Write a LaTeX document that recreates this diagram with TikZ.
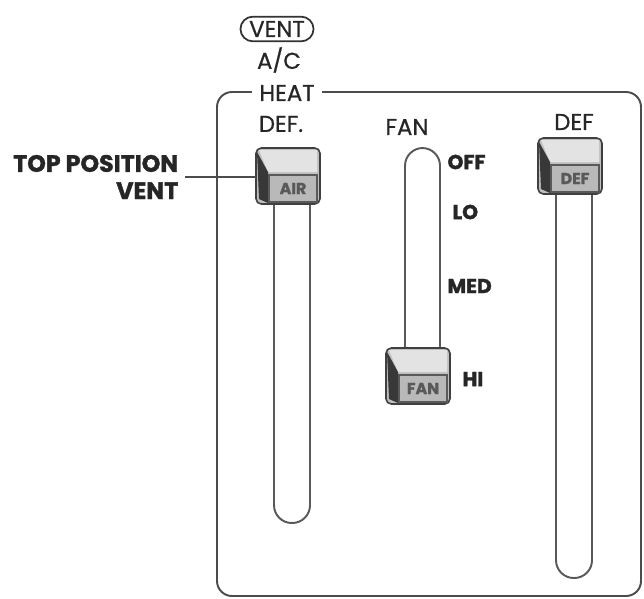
\documentclass[tikz,border=0pt]{standalone}
\usepackage{fontspec}
\setmainfont{Poppins}
\newfontfamily\medfont[FakeBold=0.7]{Poppins}
\newfontfamily\heavyfont[FakeBold=1.5]{Poppins}
\begin{document}
\begin{tikzpicture}[x=0.02cm,y=-0.02cm,line width=0.9pt,font=\fontsize{13}{15}\selectfont\medfont]
  \useasboundingbox (0,0) rectangle (644,598);
  \tikzset{
    frame/.style={draw=black!70,line width=1.1pt,rounded corners=0.3cm},
    slot/.style={draw=black!65,line width=1.1pt,rounded corners=0.355cm},
    lbl/.style={text=black!85,inner sep=1pt},
    poslbl/.style={text=black!85,font=\fontsize{11.5}{13}\selectfont\heavyfont\bfseries,inner sep=1pt,anchor=west},
  }

  % Rahmen und Schlitze
  \draw[frame] (217,92) rectangle (641,596);
  \draw[slot] (274,205) -- (274,523) -- (310,523) -- (310,205);
  \draw[slot] (405,355) -- (405,148) -- (440,148) -- (440,355);
  \draw[slot] (556,195) -- (556,578) -- (592,578) -- (592,195);

  % Schieber
  \foreach \kx/\ky/\kname/\ktext in {256/148/air/AIR, 386/348/fan/FAN, 538/138/def/DEF}{
    \draw[black!75,fill=gray!50,rounded corners=3pt] (\kx,\ky) rectangle ++(64,56);
    \fill[gray!22] (\kx+3,\ky+2) -- (\kx+61,\ky+2) -- (\kx+61,\ky+24) -- (\kx+12,\ky+24) -- cycle;
    \fill[black!78] (\kx+1,\ky+4) -- (\kx+12,\ky+24) -- (\kx+12,\ky+55) -- (\kx+3,\ky+51) -- cycle;
    \node[draw=black!65,fill=gray!55,minimum width=0.96cm,minimum height=0.54cm,inner sep=0pt,
          font=\fontsize{9}{9}\selectfont\heavyfont\bfseries,text=black!65] (\kname) at (\kx+37,\ky+40.5) {\ktext};
    \coordinate (\kname-l) at (\kx,\ky+29);
  }

  % Beschriftung
  \node[lbl,draw=black!80,line width=1pt,rounded corners=0.25cm,inner xsep=5pt,inner ysep=2.5pt] (vent) at (277,29) {VENT};
  \node[lbl] (ac) at (279,60) {A/C};
  \node[lbl,fill=white,inner xsep=4pt] (heat) at (287,93) {HEAT};
  \node[lbl] (defdot) at (281,124) {DEF.};
  \node[lbl] (fanlbl) at (407,127) {FAN};
  \node[lbl] (deflbl) at (574,122) {DEF};

  \node[text=black!85,font=\fontsize{13.5}{15.5}\selectfont\heavyfont\bfseries,align=right,anchor=east,inner sep=0pt]
    (toppos) at (179,177) {TOP POSITION\\VENT};
  \draw[black!70] (toppos.east) ++(6,0) -- (air-l);

  \node[poslbl] (off) at (445,162) {OFF};
  \node[poslbl] (lo) at (450,212) {LO};
  \node[poslbl] (med) at (445,286) {MED};
  \node[poslbl] (hi) at (460,379) {HI};
\end{tikzpicture}
\end{document}
